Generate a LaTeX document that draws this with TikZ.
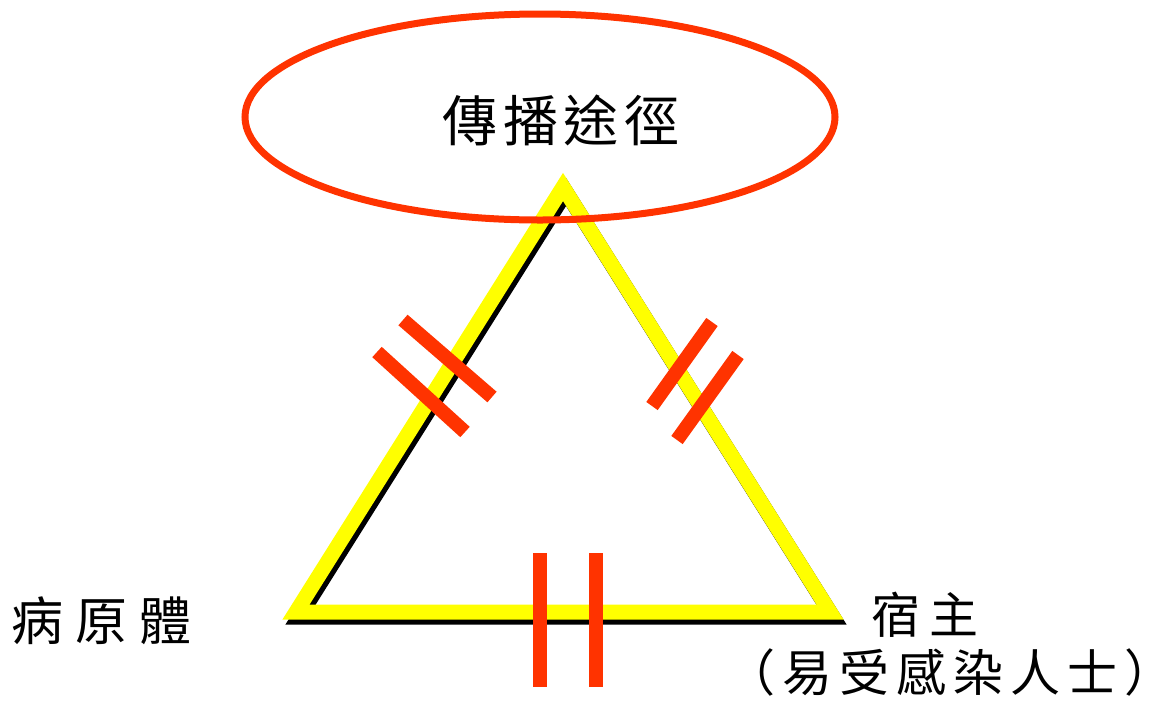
\documentclass[tikz,border=0pt]{standalone}
\usepackage{fontspec}
\setmainfont{Noto Sans CJK TC}
\usetikzlibrary{calc,shapes.geometric}
\definecolor{chainred}{RGB}{255,51,0}
\definecolor{chainyellow}{RGB}{255,255,0}
\newcommand{\cjkgap}[1]{\hspace{#1pt}}

\begin{document}
\begin{tikzpicture}[x=1pt,y=-1pt,
    side/.style={line width=15pt,line join=miter,draw=chainyellow},
    sideshadow/.style={line width=15pt,line join=miter,draw=black},
    cutbar/.style={line width=14pt,draw=chainred},
    every node/.style={inner sep=0pt}]
  \useasboundingbox (0,0) rectangle (1161,710);
  % corners of the chain triangle
  \coordinate (top) at (563,187);
  \coordinate (left) at (296,612);
  \coordinate (right) at (830,612);
  \draw[sideshadow] ($(top)+(3,5)$) -- ($(left)+(3,5)$) -- ($(right)+(3,5)$) -- cycle;
  \draw[side] (top) -- (left) -- (right) -- cycle;
  % ellipse round the top label
  \node[ellipse,draw=chainred,line width=7pt,minimum width=590pt,minimum height=206pt] (route) at (540,117) {};
  \node[font=\fontsize{55}{60}\selectfont] (routetext) at (561,120) {傳\cjkgap{6}播\cjkgap{6}途\cjkgap{6}徑};
  \node[font=\fontsize{52}{60}\selectfont] (agent) at (102,621) {病\cjkgap{12}原\cjkgap{12}體};
  \node[font=\fontsize{49}{56}\selectfont] (host) at (925,615) {宿\cjkgap{9}主};
  \node[font=\fontsize{50}{56}\selectfont] (hostnote) at (950,672) {（\cjkgap{7}易\cjkgap{7}受\cjkgap{7}感\cjkgap{7}染\cjkgap{7}人\cjkgap{7}士\cjkgap{7}）};
  % breaks in the chain
  \draw[cutbar] (403,320) -- (492,397);
  \draw[cutbar] (377,352) -- (465,432);
  \draw[cutbar] (712,322) -- (652,406);
  \draw[cutbar] (738,355) -- (677,440);
  \draw[cutbar] (540,553) -- (540,687);
  \draw[cutbar] (596,553) -- (596,687);
\end{tikzpicture}
\end{document}
